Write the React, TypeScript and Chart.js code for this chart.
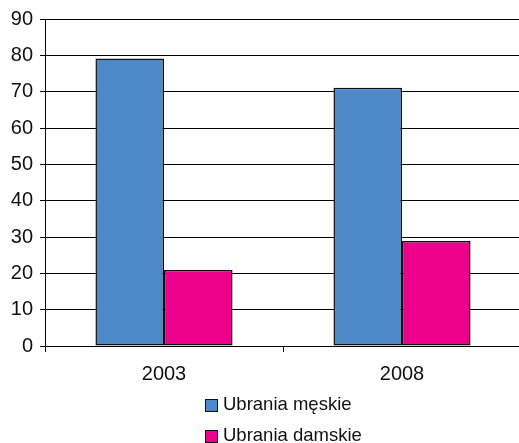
import React, { useEffect, useRef } from "react";
import { Chart, registerables, Plugin } from "chart.js";

Chart.register(...registerables);

const years = ["2003", "2008"];
const mensLabel = "Ubrania męskie";
const womensLabel = "Ubrania damskie";
const mensValues = [79.1, 71.1];
const womensValues = [20.9, 28.9];
const yTicks = [0, 10, 20, 30, 40, 50, 60, 70, 80, 90];

const FONT = "'Liberation Sans', Arial, sans-serif";
const TEXT = "#111111";
const LINE = "#000000";

// Vertical legend drawn under the x axis, one entry per row.
const stackedLegend: Plugin = {
  id: "stackedLegend",
  afterDraw(chart) {
    const { ctx, chartArea } = chart;
    const box = 12;
    const gap = 6;
    const rowGap = 31;
    ctx.save();
    ctx.font = `18.5px ${FONT}`;
    ctx.textBaseline = "middle";
    ctx.textAlign = "left";
    const items = chart.data.datasets.map((d) => ({
      label: String(d.label),
      color: String(d.backgroundColor),
    }));
    const widest = Math.max(...items.map((i) => ctx.measureText(i.label).width));
    const blockW = box + gap + widest;
    const x0 = Math.round((chartArea.left + chartArea.right) / 2 - blockW / 2);
    const y0 = chartArea.bottom + 59;
    items.forEach((it, i) => {
      const cy = y0 + i * rowGap;
      const top = Math.round(cy - box / 2) + 0.5;
      ctx.fillStyle = it.color;
      ctx.fillRect(x0 + 0.5, top, box, box);
      ctx.strokeStyle = "#111111";
      ctx.lineWidth = 1;
      ctx.strokeRect(x0 + 0.5, top, box, box);
      ctx.fillStyle = TEXT;
      ctx.fillText(it.label, x0 + box + gap, cy);
    });
    ctx.restore();
  },
};

export default function App() {
  const ref = useRef<HTMLCanvasElement | null>(null);

  useEffect(() => {
    if (!ref.current) return;
    const chart = new Chart(ref.current, {
      type: "bar",
      data: {
        labels: years,
        datasets: [
          {
            label: mensLabel,
            data: mensValues,
            backgroundColor: "#4d88c8",
            borderColor: "#111111",
            borderWidth: 1.5,
            borderSkipped: false,
            inflateAmount: 0,
            barPercentage: 1,
            categoryPercentage: 0.576,
          },
          {
            label: womensLabel,
            data: womensValues,
            backgroundColor: "#ec008c",
            borderColor: "#111111",
            borderWidth: 1.5,
            borderSkipped: false,
            inflateAmount: 0,
            barPercentage: 1,
            categoryPercentage: 0.576,
          },
        ],
      },
      options: {
        responsive: false,
        animation: false,
        devicePixelRatio: 1,
        layout: { padding: { left: 0, right: 4, top: 19, bottom: 0 } },
        plugins: {
          legend: { display: false },
          tooltip: { enabled: false },
        },
        scales: {
          x: {
            offset: true,
            grid: {
              offset: true,
              drawOnChartArea: false,
              drawTicks: true,
              tickLength: 6,
              color: LINE,
              lineWidth: 1,
            },
            border: { display: true, color: LINE, width: 1 },
            ticks: {
              color: TEXT,
              font: { family: FONT, size: 20 },
              padding: 10,
              maxRotation: 0,
            },
            afterFit(scale) {
              scale.height = 97;
            },
          },
          y: {
            min: 0,
            max: 90,
            afterBuildTicks(scale) {
              scale.ticks = yTicks.map((v) => ({ value: v }));
            },
            grid: {
              drawTicks: true,
              tickLength: 5,
              color: LINE,
              lineWidth: 1,
            },
            border: { display: true, color: LINE, width: 1 },
            ticks: {
              color: TEXT,
              font: { family: FONT, size: 20 },
              padding: 7,
            },
            afterFit(scale) {
              scale.width = 45;
            },
          },
        },
      },
      plugins: [stackedLegend],
    });
    return () => chart.destroy();
  }, []);

  return (
    <div
      style={{
        position: "fixed",
        left: 0,
        top: 0,
        width: 519,
        height: 443,
        overflow: "hidden",
        background: "#ffffff",
      }}
    >
      <canvas ref={ref} width={525} height={443} style={{ width: 525, height: 443, display: "block" }} />
    </div>
  );
}
